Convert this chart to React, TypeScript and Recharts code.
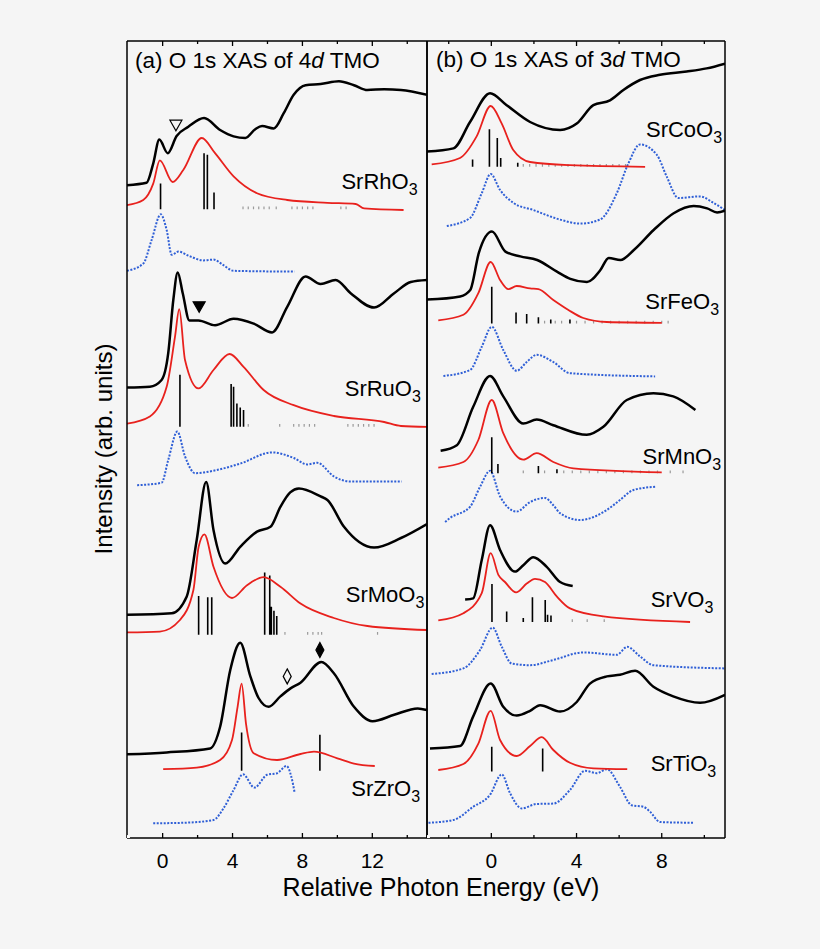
import React from 'react';
import { ComposedChart, Line, XAxis, YAxis, Scatter } from 'recharts';

const FONT = "'Liberation Sans', Arial, Helvetica, sans-serif";
const Y_DOMAIN: [number, number] = [0, 99.625];

type P = [number, number];

// ---------- panel (a): 4d TMO ----------
const xDomainA: [number, number] = [-2.04, 15.13];
const majorTicksA = [0, 4, 8, 12];
const minorTicksA = [2, 6, 10, 14];

const rhExp: P[] = [[-2.04, 81.6], [-0.92, 81.9], [-0.54, 84.3], [-0.19, 87.3], [0.29, 85.6], [0.8, 87.75], [1.47, 88.9], [2.37, 90.0], [3.29, 88.5], [4.06, 87.7], [4.73, 87.5], [5.3, 88.6], [5.69, 89], [6.36, 88.7], [6.93, 90.6], [7.5, 92.9], [8.18, 94.1], [9.04, 94.25], [10.09, 94.6], [10.95, 94.1], [11.72, 93.5], [12.68, 93.6], [13.64, 93.5], [15.13, 92.9]];
const rhCalc: P[] = [[-2.04, 79.1], [-1.11, 79.75], [-0.54, 81.8], [-0.16, 84.7], [0.57, 82.0], [1.18, 83.5], [2.24, 87.5], [3.0, 85.6], [4.06, 82.7], [5.4, 80.6], [7.13, 79.75], [9.43, 79.4], [11.05, 79.25], [11.53, 78.7], [13.79, 78.5]];
const rhDos: P[] = [[-2.04, 70.9], [-1.11, 71.8], [-0.63, 74.75], [-0.11, 77.96], [0.23, 76], [0.52, 72.9], [0.9, 73.3], [1.57, 72.7], [2.33, 72.2], [2.91, 72.3], [3.48, 71.6], [4.06, 70.9], [7.55, 70.8]];
const rhBase = 78.6;
const rhSticks: P[] = [[-0.12, 81.8], [2.37, 85.6], [2.56, 85.4], [2.94, 80.7]];
const rhTiny = [4.6, 4.9, 5.2, 5.5, 5.8, 6.1, 6.5, 7.4, 7.7, 8.0, 8.3, 8.6, 10.2, 10.5];

const ruExp: P[] = [[-2.04, 56.3], [-0.73, 56.4], [-0.06, 57.25], [0.32, 60.6], [0.61, 67.25], [0.86, 70.7], [1.15, 68.1], [1.53, 64.7], [2.05, 64.7], [3.0, 64.1], [4.06, 64.9], [5.21, 64.3], [6.26, 63.2], [7.13, 66.4], [8.18, 70.2], [9.04, 69.25], [9.9, 69.75], [10.76, 68.1], [12.1, 66.3], [13.25, 68.1], [14.2, 69.5], [15.13, 69.75]];
const ruCalc: P[] = [[-2.04, 51.8], [-0.73, 52.7], [0.23, 56.4], [0.71, 62.7], [0.95, 66.1], [1.28, 59.75], [2.05, 56.2], [2.91, 58.5], [3.83, 60.5], [4.63, 58.9], [5.78, 56], [7.5, 54.1], [9.8, 52.75], [12.68, 52], [13.64, 51.5], [15.13, 51.4]];
const ruDos: P[] = [[-1.46, 44.1], [-0.06, 44.4], [0.32, 47.25], [0.84, 50.8], [1.28, 47.7], [1.86, 45.6], [3.1, 46], [4.44, 46.8], [6.26, 48.2], [7.5, 47.5], [8.28, 46.7], [8.85, 46.9], [9.8, 45.2], [10.76, 44.55], [13.68, 44.55]];
const ruBase = 51.4;
const ruSticks: P[] = [[0.99, 57.9], [3.92, 56.75], [4.06, 56.4], [4.25, 54.3], [4.44, 53.8], [4.63, 53.5]];
const ruTiny = [4.9, 6.7, 7.5, 7.8, 8.1, 8.4, 8.7, 10.6, 10.9, 11.2, 11.5, 11.8, 12.1];

const moExp: P[] = [[-2.04, 27.9], [0.52, 28.1], [1.38, 30.2], [1.95, 37.25], [2.49, 44.5], [2.91, 38.5], [3.58, 34.3], [4.44, 36.4], [5.4, 38.3], [6.17, 38.9], [6.74, 41.4], [7.3, 43.2], [7.8, 43.7], [9.04, 42.7], [9.43, 42.25], [10.38, 38.9], [12.1, 36.3], [13.64, 37.5], [15.13, 39.25]];
const moCalc: P[] = [[-2.04, 25.7], [-0.16, 25.8], [0.99, 27.25], [1.76, 31], [2.06, 36.4], [2.39, 37.96], [2.91, 33.9], [3.97, 30], [4.83, 31.6], [5.78, 32.6], [6.74, 31.4], [7.89, 29.3], [9.8, 27.5], [11.72, 26.5], [15.13, 26]];
const moDos: P[] = [];
const moBase = 25.4;
const moSticks: P[] = [[2.06, 30.25], [2.58, 30.1], [2.81, 30.1], [5.84, 33.2], [6.13, 32.8], [6.22, 28.9], [6.37, 28.4], [6.53, 27.75]];
const moTiny = [7.0, 8.3, 8.6, 8.9, 9.1, 12.3];

const zrExp: P[] = [[-2.04, 10.46], [0.23, 10.7], [2.72, 11.2], [3.29, 13.9], [3.87, 21], [4.44, 24.4], [5.02, 20.2], [5.49, 17.5], [6.07, 16.4], [6.74, 17.7], [7.32, 18.7], [7.89, 19.4], [9.08, 22.0], [9.8, 20.6], [10.95, 16.4], [12.01, 14.6], [13.25, 15.4], [14.6, 16.2], [15.13, 16]];
const zrCalc: P[] = [[0.03, 8.6], [1.95, 8.8], [3.29, 9.75], [3.97, 12.25], [4.29, 16.4], [4.52, 19.3], [4.77, 14.3], [5.21, 10.6], [6.55, 9.75], [7.89, 10.5], [8.66, 10.8], [10.0, 9.96], [10.95, 9.3], [12.14, 9.0]];
const zrDos: P[] = [[-0.54, 1.84], [1.18, 1.9], [2.91, 2.25], [3.48, 3.7], [4.06, 6], [4.6, 7.96], [5.25, 6.3], [5.98, 7.9], [6.55, 8.1], [7.09, 9.0], [7.36, 7.7], [7.56, 5.6]];
const zrBase = 8.4;
const zrSticks: P[] = [[4.52, 13.2], [9.0, 12.9]];
const zrTiny: number[] = [];

const labelsA = [
  { x: 10.23, y: 81.1, name: 'SrRhO3' },
  { x: 10.42, y: 55.2, name: 'SrRuO3' },
  { x: 10.48, y: 29.5, name: 'SrMoO3' },
  { x: 10.8, y: 5.25, name: 'SrZrO3' },
];
const openTriangleA = [{ x: 0.76, y: 89.1 }];
const filledTriangleA = [{ x: 2.09, y: 66.4 }];
const openDiamondA = [{ x: 7.13, y: 20.2 }];
const filledDiamondA = [{ x: 9.0, y: 23.5 }];

// ---------- panel (b): 3d TMO ----------
const xDomainB: [number, number] = [-3.02, 10.97];
const majorTicksB = [0, 4, 8];
const minorTicksB = [-2, 2, 6, 10];

const coExp: P[] = [[-3.02, 85.8], [-1.78, 86.2], [-1.0, 89.5], [-0.06, 93.1], [0.72, 91.6], [1.82, 89.5], [3.23, 88.5], [4.01, 89.3], [4.79, 91.6], [5.57, 92.2], [6.2, 93.5], [6.98, 94.75], [7.92, 95.4], [9.17, 95.8], [10.11, 96.2], [10.97, 96.8]];
const coCalc: P[] = [[-2.8, 84.2], [-1.47, 85], [-0.69, 87.7], [-0.03, 91.5], [0.49, 89.3], [1.03, 86], [1.82, 84.5], [3.69, 84.1], [7.22, 83.9]];
const coDos: P[] = [[-2.09, 76.5], [-1.0, 77.5], [-0.45, 80.6], [-0.03, 83], [0.41, 81], [1.03, 79.4], [1.97, 78.5], [3.23, 77.3], [4.16, 76.8], [5.1, 77.3], [5.89, 80.6], [6.43, 84.3], [6.98, 86.7], [7.77, 85.4], [8.23, 82.7], [8.78, 80], [9.8, 80.2], [10.42, 79.4], [10.97, 78.5]];
const coBase = 83.9;
const coSticks: P[] = [[-0.88, 84.8], [-0.09, 88.6], [0.28, 87.5], [0.44, 85.0], [1.24, 84.4]];
const coTiny = [1.5, 1.8, 2.1, 2.4, 2.7, 3.0, 3.3, 3.6, 3.9, 4.2, 4.5, 4.8, 5.1, 5.4, 5.7, 6.0, 6.3];

const feExp: P[] = [[-3.02, 67.3], [-1.46, 67.7], [-0.99, 68.5], [-0.59, 73.1], [0.03, 75.8], [0.66, 73.3], [1.36, 72.7], [2.15, 72.25], [3.08, 70.8], [3.71, 69.9], [4.49, 69.5], [5.12, 71], [5.51, 72.5], [6.06, 72.25], [6.69, 73.5], [7.62, 76], [8.56, 78.1], [9.5, 79], [10.13, 78.7], [10.6, 78.2], [10.97, 78.4]];
const feCalc: P[] = [[-2.49, 64.7], [-1.31, 65.4], [-0.61, 68.1], [-0.03, 72.0], [0.41, 69.75], [0.8, 68.6], [1.19, 69], [1.82, 68.7], [2.21, 68.6], [2.91, 67.25], [3.62, 66], [4.32, 65], [5.42, 64.5], [8.0, 64.4]];
const feDos: P[] = [[-2.25, 57.75], [-1.0, 58.5], [-0.45, 61.4], [0.02, 63.9], [0.56, 61], [1.19, 58.4], [1.66, 59.5], [2.13, 60.4], [2.91, 59.5], [3.69, 58.1], [7.69, 57.7]];
const feBase = 64.3;
const feSticks: P[] = [[0.02, 68.9], [1.16, 65.7], [1.66, 65.5], [2.21, 65.1], [2.79, 64.8], [3.69, 64.8]];
const feTiny = [2.5, 3.0, 3.3, 4.0, 4.4, 4.8, 5.2, 5.6, 6.0, 6.4, 6.8, 7.2, 7.6, 8.0, 8.3];

const mnExp: P[] = [[-2.38, 48.4], [-1.62, 49.1], [-0.85, 53.9], [-0.06, 57.75], [0.56, 55.2], [1.5, 51.8], [2.13, 52.3], [2.91, 51.6], [4.48, 50.4], [5.26, 51.4], [6.36, 54.75], [7.61, 55.6], [8.54, 55.2], [9.58, 53.5]];
const mnCalc: P[] = [[-2.49, 46.3], [-1.31, 47.0], [-0.61, 49.75], [0.02, 54.75], [0.56, 50.6], [1.5, 47.3], [2.13, 48.1], [2.91, 47.0], [3.85, 46.2], [8.0, 45.7]];
const mnDos: P[] = [[-2.17, 39.5], [-1.94, 40], [-1, 41.4], [-0.53, 43.9], [-0.06, 45.9], [0.41, 42.7], [1.19, 40.8], [1.82, 42.0], [2.52, 42.5], [2.91, 41.6], [3.23, 40.6], [4.16, 39.75], [5.42, 41], [6.04, 42.25], [6.67, 43.5], [7.69, 43.9]];
const mnBase = 45.6;
const mnSticks: P[] = [[0.02, 50.1], [0.31, 46.75], [2.21, 46.5], [3.08, 46.1]];
const mnTiny = [1.5, 2.5, 3.4, 3.8, 4.2, 4.6, 5.0, 5.4, 5.8, 6.2, 6.6, 7.0, 7.4, 7.8, 8.4, 9.0];

const vExp: P[] = [[-1.23, 29.8], [-0.85, 29.96], [-0.45, 34.75], [-0.06, 39.1], [0.41, 36], [1.11, 33.3], [1.5, 34.1], [1.97, 35.1], [2.6, 33.9], [3.23, 32], [3.82, 31.5]];
const vCalc: P[] = [[-2.49, 27.2], [-1.31, 28.1], [-0.45, 30.6], [-0.03, 35.6], [0.33, 32.9], [0.64, 32], [1.16, 30.7], [1.66, 31.8], [2.05, 32.4], [2.52, 32], [3.07, 30.2], [3.69, 28.7], [5.26, 27.7], [9.33, 27]];
const vDos: P[] = [[-2.8, 20.5], [-1.31, 21.2], [-0.53, 23.5], [0.06, 26.3], [0.49, 23.9], [0.96, 21.8], [1.82, 21.6], [2.91, 22.25], [4.32, 23.2], [5.89, 22.9], [6.38, 23.9], [6.98, 22.7], [7.61, 21.6], [10.97, 21.2]];
const vBase = 27;
const vSticks: P[] = [[0.03, 31.75], [0.72, 28.3], [1.5, 27.5], [1.93, 30.1], [2.53, 29.75], [2.64, 27.9], [2.8, 27.8]];
const vTiny = [3.8, 4.5, 5.3];

const tiExp: P[] = [[-2.88, 11.2], [-1.47, 11.5], [-0.85, 15.2], [-0.03, 19.3], [0.56, 16.4], [1.19, 15.3], [1.82, 15.9], [2.29, 16.6], [3.23, 15.8], [4.01, 17], [4.63, 19.3], [5.42, 20.2], [6.04, 20.4], [6.75, 20.9], [7.61, 18.9], [8.54, 17.7], [9.8, 16.9], [10.97, 17.9]];
const tiCalc: P[] = [[-2.49, 8.5], [-1.31, 9.25], [-0.61, 11.8], [-0.03, 15.9], [0.41, 12.25], [1.19, 10.25], [1.82, 11.5], [2.37, 12.6], [2.91, 11], [3.69, 9.4], [4.79, 8.7], [6.38, 8.6]];
const tiDos: P[] = [[-2.95, 1.9], [-1.78, 2.25], [-0.85, 3.9], [-0.06, 5.4], [0.49, 7.96], [0.88, 5.6], [1.43, 3.7], [2.13, 4.25], [2.91, 4.3], [3.69, 6], [4.4, 8.4], [4.95, 8.1], [5.42, 8.6], [6.04, 6.4], [6.59, 4.1], [7.14, 3.9], [7.45, 3.3], [7.92, 2.0], [9.48, 1.9]];
const tiBase = 8.3;
const tiSticks: P[] = [[0.02, 11.4], [2.41, 11.2]];
const tiTiny: number[] = [];

const labelsB = [
  { x: 7.26, y: 87.6, name: 'SrCoO3' },
  { x: 7.23, y: 66.1, name: 'SrFeO3' },
  { x: 7.1, y: 46.75, name: 'SrMnO3' },
  { x: 7.48, y: 28.9, name: 'SrVO3' },
  { x: 7.48, y: 8.4, name: 'SrTiO3' },
];

// ---------- helpers ----------
const toPts = (a: P[]) => a.map(([x, y]) => ({ x, y }));
const stickPts = (base: number, s: P[]) =>
  s.flatMap(([x, top]) => [{ x, y: base }, { x, y: top }, { x, y: null as number | null }]);
const tinyPts = (base: number, s: number[]) =>
  s.flatMap((x) => [{ x, y: base }, { x, y: base + 0.35 }, { x, y: null as number | null }]);

const AX = { stroke: '#000', strokeWidth: 1.5 };

// bottom axis tick: label for major ticks + inward tick mark (length 5 major / 3 minor)
const bottomTick = (major: number[], margin: number) => (p: any) => {
  const v = p.payload?.value;
  const isMajor = major.includes(v);
  const y0 = p.y - margin;
  return (
    <g>
      <line x1={p.x} x2={p.x} y1={y0} y2={y0 - (isMajor ? 5 : 3)} stroke="#000" strokeWidth={1.3} />
      {isMajor ? (
        <text x={p.x} y={p.y} dy="0.71em" textAnchor="middle" fontSize={21} fill="#000" fontFamily={FONT}>{v}</text>
      ) : null}
    </g>
  );
};
const topTick = (major: number[]) => (p: any) => {
  const v = p.payload?.value;
  const len = major.includes(v) ? 5 : 3;
  return <line x1={p.x} x2={p.x} y1={p.y} y2={p.y + len} stroke="#000" strokeWidth={1.3} />;
};

function axes(domain: [number, number], major: number[], minor: number[]) {
  const common = { type: 'number' as const, dataKey: 'x', domain, allowDataOverflow: true, interval: 0 as const };
  const all = [...major, ...minor].sort((a, b) => a - b);
  return [
    <XAxis key="b" xAxisId="b" {...common} orientation="bottom" ticks={all} height={45} tickSize={0} tickMargin={15}
      tickLine={false} axisLine={AX} tick={bottomTick(major, 15)} />,
    <XAxis key="tM" xAxisId="tM" {...common} orientation="top" mirror height={1} ticks={all} tickSize={0} tickMargin={0}
      axisLine={AX} tickLine={false} tick={topTick(major)} />,
    <YAxis key="yl" yAxisId="y" type="number" dataKey="y" domain={Y_DOMAIN} allowDataOverflow orientation="left" mirror
      width={1} tick={false} tickLine={false} axisLine={AX} />,
    <YAxis key="yr" yAxisId="yr" type="number" dataKey="y" domain={Y_DOMAIN} allowDataOverflow orientation="right" mirror
      width={1} tick={false} tickLine={false} axisLine={AX} />,
    // invisible carrier so the top axis has a series bound to it
    <Line key="carrier" xAxisId="tM" yAxisId="y" dataKey="y" data={[{ x: domain[0], y: 0 }]} stroke="none"
      dot={false} activeDot={false} isAnimationActive={false} />,
  ];
}

const lineProps = { xAxisId: 'b', yAxisId: 'y', dataKey: 'y', dot: false, activeDot: false, isAnimationActive: false };

function series(exp: P[][], calc: P[][], dos: P[][], sticks: [number, P[]][], tiny: [number, number[]][], id: string) {
  const out: React.ReactNode[] = [];
  dos.forEach((d, i) => {
    if (d.length) out.push(<Line key={`${id}d${i}`} {...lineProps} data={toPts(d)} type="monotone" stroke="#2f5fd6" strokeWidth={2} strokeDasharray="2 1.5" />);
  });
  tiny.forEach(([b, t], i) => {
    if (t.length) out.push(<Line key={`${id}t${i}`} {...lineProps} data={tinyPts(b, t)} type="linear" stroke="#9a9a9a" strokeWidth={1.2} connectNulls={false} />);
  });
  sticks.forEach(([b, s], i) => {
    out.push(<Line key={`${id}s${i}`} {...lineProps} data={stickPts(b, s)} type="linear" stroke="#000" strokeWidth={1.6} connectNulls={false} />);
  });
  calc.forEach((d, i) => {
    out.push(<Line key={`${id}c${i}`} {...lineProps} data={toPts(d)} type="monotone" stroke="#e8211d" strokeWidth={1.8} />);
  });
  exp.forEach((d, i) => {
    out.push(<Line key={`${id}e${i}`} {...lineProps} data={toPts(d)} type="monotone" stroke="#000" strokeWidth={2.5} />);
  });
  return out;
}

const renderLabel = (p: any) => {
  const name: string = p.payload?.name ?? '';
  return (
    <text x={p.cx} y={p.cy} fontSize={22} fontFamily={FONT} fill="#000">
      {name.slice(0, -1)}
      <tspan fontSize={16} dy={6}>{name.slice(-1)}</tspan>
    </text>
  );
};
const triShape = (filled: boolean) => (p: any) => (
  <polygon points={`${p.cx - 6},${p.cy - 5} ${p.cx + 6},${p.cy - 5} ${p.cx},${p.cy + 5.5}`}
    fill={filled ? '#000' : 'none'} stroke="#000" strokeWidth={1.2} />
);
const diaShape = (filled: boolean) => (p: any) => (
  <polygon points={`${p.cx},${p.cy - 7.5} ${p.cx + 4},${p.cy} ${p.cx},${p.cy + 7.5} ${p.cx - 4},${p.cy}`}
    fill={filled ? '#000' : 'none'} stroke="#000" strokeWidth={1.2} />
);

const scatterProps = { xAxisId: 'b', yAxisId: 'y', dataKey: 'y', isAnimationActive: false };

export default function App() {
  return (
    <div style={{ position: 'absolute', left: 0, top: 0, width: 820, height: 949, background: '#f5f5f5', fontFamily: FONT }}>
      <div style={{ position: 'absolute', left: 122, top: 36 }}>
        <ComposedChart width={310} height={847} margin={{ top: 5, right: 5, bottom: 0, left: 5 }}>
          {axes(xDomainA, majorTicksA, minorTicksA)}
          {series(
            [rhExp, ruExp, moExp, zrExp],
            [rhCalc, ruCalc, moCalc, zrCalc],
            [rhDos, ruDos, moDos, zrDos],
            [[rhBase, rhSticks], [ruBase, ruSticks], [moBase, moSticks], [zrBase, zrSticks]],
            [[rhBase, rhTiny], [ruBase, ruTiny], [moBase, moTiny], [zrBase, zrTiny]],
            'a'
          )}
          <Scatter {...scatterProps} data={labelsA} shape={renderLabel} />
          <Scatter {...scatterProps} data={openTriangleA} shape={triShape(false)} />
          <Scatter {...scatterProps} data={filledTriangleA} shape={triShape(true)} />
          <Scatter {...scatterProps} data={openDiamondA} shape={diaShape(false)} />
          <Scatter {...scatterProps} data={filledDiamondA} shape={diaShape(true)} />
        </ComposedChart>
      </div>
      <div style={{ position: 'absolute', left: 422, top: 36 }}>
        <ComposedChart width={308} height={847} margin={{ top: 5, right: 5, bottom: 0, left: 5 }}>
          {axes(xDomainB, majorTicksB, minorTicksB)}
          {series(
            [coExp, feExp, mnExp, vExp, tiExp],
            [coCalc, feCalc, mnCalc, vCalc, tiCalc],
            [coDos, feDos, mnDos, vDos, tiDos],
            [[coBase, coSticks], [feBase, feSticks], [mnBase, mnSticks], [vBase, vSticks], [tiBase, tiSticks]],
            [[coBase, coTiny], [feBase, feTiny], [mnBase, mnTiny], [vBase, vTiny], [tiBase, tiTiny]],
            'b'
          )}
          <Scatter {...scatterProps} data={labelsB} shape={renderLabel} />
        </ComposedChart>
      </div>
      <svg width={820} height={949} style={{ position: 'absolute', left: 0, top: 0, pointerEvents: 'none' }}>
        <text x={135} y={68} fontSize={22.5} fontFamily={FONT} fill="#000">
          (a) O 1s XAS of 4<tspan fontStyle="italic">d</tspan> TMO
        </text>
        <text x={436} y={67} fontSize={22.5} fontFamily={FONT} fill="#000">
          (b) O 1s XAS of 3<tspan fontStyle="italic">d</tspan> TMO
        </text>
        <text x={441} y={896} fontSize={25} fontFamily={FONT} fill="#000" textAnchor="middle">
          Relative Photon Energy (eV)
        </text>
        <text transform="translate(112,449) rotate(-90)" fontSize={24} fontFamily={FONT} fill="#000" textAnchor="middle">
          Intensity (arb. units)
        </text>
      </svg>
    </div>
  );
}
